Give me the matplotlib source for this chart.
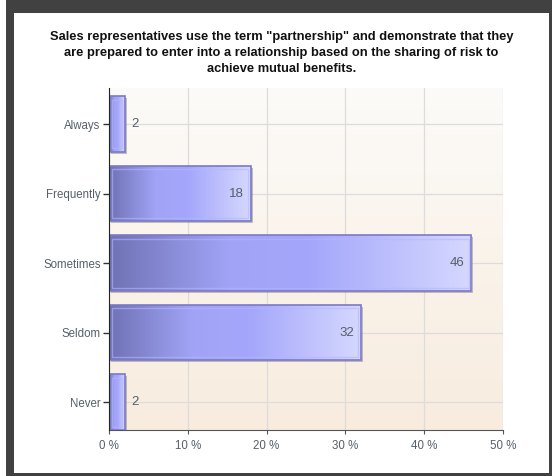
import numpy as np
import matplotlib.pyplot as plt
from matplotlib.colors import LinearSegmentedColormap
from matplotlib.patches import Rectangle
from matplotlib.transforms import offset_copy

categories = ["Always", "Frequently", "Sometimes", "Seldom", "Never"]
percent = [2, 18, 46, 32, 2]
x_ticks = [0, 10, 20, 30, 40, 50]
x_tick_labels = ["0 %", "10 %", "20 %", "30 %", "40 %", "50 %"]
title = ('Sales representatives use the term "partnership" and demonstrate that they\n'
         'are prepared to enter into a relationship based on the sharing of risk to\n'
         'achieve mutual benefits.')

plt.rcParams['font.family'] = ['Liberation Sans', 'DejaVu Sans']

W, H = 552, 476
fig = plt.figure(figsize=(W / 100, H / 100), dpi=100)
fig.patch.set_facecolor('#414141')

# white panel inside the dark frame
panel = fig.add_axes([14 / W, 3 / H, (549 - 14) / W, (463 - 3) / H])
panel.set_facecolor('white')
panel.set_xticks([]); panel.set_yticks([])
for s in panel.spines.values():
    s.set_visible(False)
strip = fig.add_axes([0, 0, 6 / W, 1])
strip.set_facecolor('white'); strip.set_xticks([]); strip.set_yticks([])
for s in strip.spines.values():
    s.set_visible(False)

fig.text(0.5 * (14 + 549) / W, 1 - 31 / H, title, ha='center', va='top',
         fontsize=9.3, fontweight='bold', color='#111111', linespacing=1.45)

left, right, top, bottom = 109, 503, 88, 430
ax = fig.add_axes([left / W, 1 - bottom / H, (right - left) / W, (bottom - top) / H])
ax.set_xlim(0, 50)
ax.set_ylim(4.4, -0.52)

# background vertical gradient
bg = LinearSegmentedColormap.from_list('bg', ['#fcfbf9', '#faf3ea', '#f8ecdf'])
ax.imshow(np.linspace(0, 1, 256).reshape(-1, 1), cmap=bg, aspect='auto',
          extent=(0, 50, 4.4, -0.52), origin='upper', zorder=0)

ax.set_xticks(x_ticks)
ax.set_xticklabels(x_tick_labels)
ypos = np.arange(len(categories))
ax.set_yticks(ypos)
ax.set_yticklabels(categories)
ax.grid(True, color='#dcdcdc', linewidth=0.9, zorder=1)
ax.set_axisbelow(True)

for s in ['top', 'right']:
    ax.spines[s].set_visible(False)
ax.spines['left'].set_color('#222222')
ax.spines['bottom'].set_color('#555555')
ax.spines['left'].set_zorder(6)
ax.tick_params(axis='y', length=4, width=1, color='#333333', labelsize=8.3, labelcolor='#55606a', pad=2)
ax.tick_params(axis='x', length=3, width=0.8, color='#555555', labelsize=8.3, labelcolor='#55606a', pad=4)

barcm = LinearSegmentedColormap.from_list(
    'bar', [(0.0, '#6f72b4'), (0.33, '#a1a4f6'), (0.55, '#a3a6fa'), (1.0, '#d6d8ff')])
grad = np.linspace(0, 1, 256).reshape(1, -1)
h = 0.8
shadow_tf = offset_copy(ax.transData, fig=fig, x=2, y=-2, units='dots')

for y, v in zip(ypos, percent):
    ax.add_patch(Rectangle((0, y - h / 2), v, h, transform=shadow_tf,
                           facecolor='#777777', alpha=0.45, edgecolor='none', zorder=2))
    bar = ax.barh(y, v, height=h, color='none', edgecolor='#7a7ac8', linewidth=1.2, zorder=4)[0]
    im = ax.imshow(grad, cmap=barcm, aspect='auto',
                   extent=(0, v, y + h / 2, y - h / 2), zorder=3)
    im.set_clip_path(bar)
    # inner highlight frame
    ax.add_patch(Rectangle((0.35, y - h / 2 + 0.05), max(v - 0.7, 0.1), h - 0.1,
                           facecolor='none', edgecolor='#b4b6ff', linewidth=1.0,
                           alpha=0.6, zorder=4))
    if v >= 10:
        ax.text(v - 0.9, y, f"{v}", ha='right', va='center', fontsize=9.5, color='#55606a', zorder=5)
    else:
        ax.text(v + 0.8, y, f"{v}", ha='left', va='center', fontsize=9.5, color='#55606a', zorder=5)

fig.savefig('out.png', dpi=100, facecolor=fig.get_facecolor())
